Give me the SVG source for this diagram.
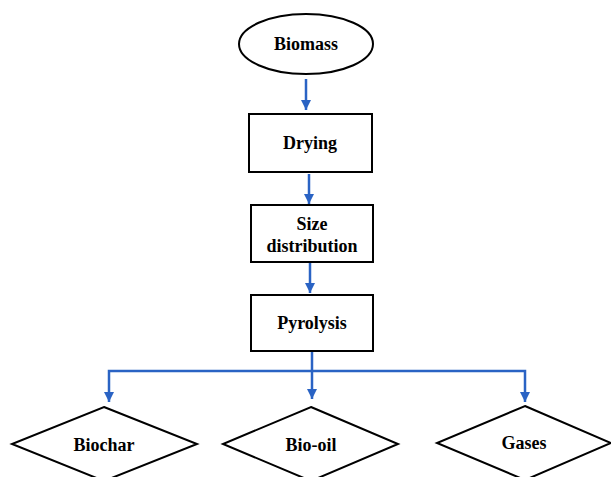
<svg xmlns="http://www.w3.org/2000/svg" width="611" height="477" viewBox="0 0 611 477">
<style>
.shape{fill:#fff;stroke:#000;stroke-width:2}
.lbl{font-family:"Liberation Serif","Times New Roman",serif;font-weight:bold;font-size:18px;fill:#000;text-anchor:middle}
.conn{fill:none;stroke:#2a63c4;stroke-width:2.5}
</style>
<defs>
<marker id="ah" viewBox="0 0 10 10" refX="10" refY="5" markerWidth="10" markerHeight="10" markerUnits="userSpaceOnUse" orient="auto">
<path d="M0,0 L10,5 L0,10 z" fill="#2a63c4"/>
</marker>
</defs>
<rect width="611" height="477" fill="#fff"/>
<g id="connectors">
<path class="conn" d="M306,79 V110" marker-end="url(#ah)"/>
<path class="conn" d="M309,174 V204" marker-end="url(#ah)"/>
<path class="conn" d="M310,263 V293" marker-end="url(#ah)"/>
<path class="conn" d="M312,351 V399" marker-end="url(#ah)"/>
<path class="conn" d="M312,371 H109 V402" marker-end="url(#ah)"/>
<path class="conn" d="M312,371 H525 V402" marker-end="url(#ah)"/>
</g>
<g id="biomass">
<ellipse class="shape" cx="306" cy="44" rx="67" ry="30"/>
<text class="lbl" x="306" y="50">Biomass</text>
</g>
<g id="drying">
<rect class="shape" x="249" y="114" width="123" height="58"/>
<text class="lbl" x="310" y="149">Drying</text>
</g>
<g id="size">
<rect class="shape" x="251" y="205" width="122" height="57"/>
<text class="lbl" x="312" y="230">Size</text>
<text class="lbl" x="312" y="252">distribution</text>
</g>
<g id="pyrolysis">
<rect class="shape" x="251" y="295" width="122" height="56"/>
<text class="lbl" x="312" y="329">Pyrolysis</text>
</g>
<g id="biochar">
<path class="shape" d="M104,407 L197,444 L104,481 L12,444 Z"/>
<text class="lbl" x="104" y="451">Biochar</text>
</g>
<g id="biooil">
<path class="shape" d="M311,407 L398,444 L311,481 L223,444 Z"/>
<text class="lbl" x="311" y="451">Bio-oil</text>
</g>
<g id="gases">
<path class="shape" d="M525,406 L611,443 L525,480 L437,443 Z"/>
<text class="lbl" x="524" y="449">Gases</text>
</g>
</svg>
